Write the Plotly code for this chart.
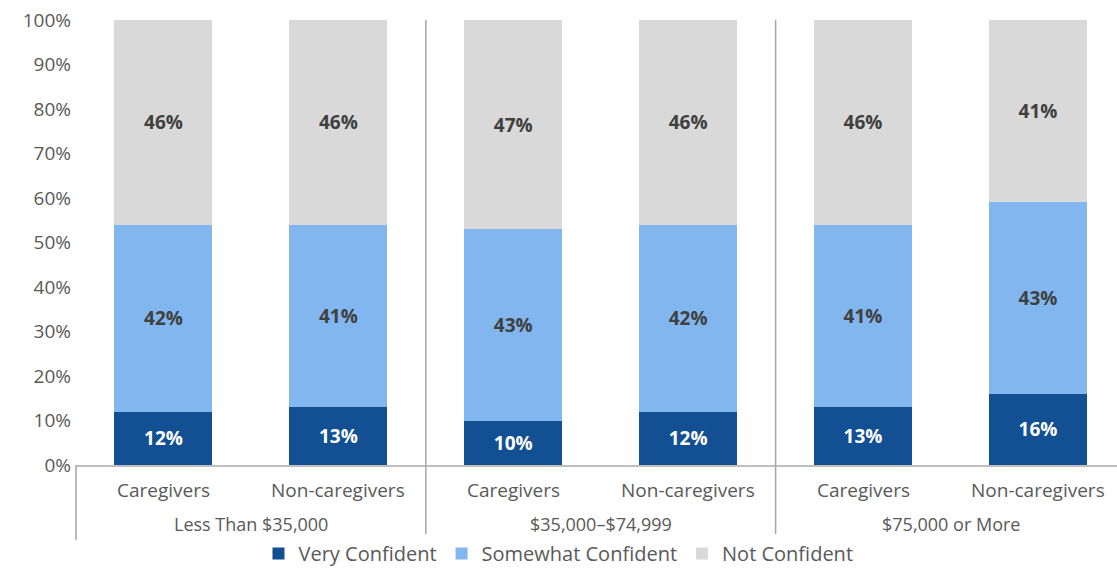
import plotly.graph_objects as go

categories = ["Caregivers", "Non-caregivers", "Caregivers", "Non-caregivers", "Caregivers", "Non-caregivers"]
groups = ["Less Than $35,000", "$35,000–$74,999", "$75,000 or More"]
very_confident = [12, 13, 10, 12, 13, 16]
somewhat_confident = [42, 41, 43, 42, 41, 43]
not_confident = [46, 46, 47, 46, 46, 41]
y_ticks = [0, 10, 20, 30, 40, 50, 60, 70, 80, 90, 100]

FONT = "Open Sans"
xs = list(range(len(categories)))
X_RANGE = [-0.5, 5.452]
span = X_RANGE[1] - X_RANGE[0]

series = [
    ("Very Confident", very_confident, "#124F93", "white"),
    ("Somewhat Confident", somewhat_confident, "#82B6EE", "#404040"),
    ("Not Confident", not_confident, "#D9D9D9", "#404040"),
]

fig = go.Figure()
for name, vals, color, tcolor in series:
    fig.add_trace(go.Bar(
        x=xs, y=vals, name=name, marker=dict(color=color, line=dict(width=0)),
        width=0.56,
        text=[f"{v}%" for v in vals], textposition="inside", insidetextanchor="middle",
        textangle=0, constraintext="none",
        textfont=dict(family=FONT, size=19, color=tcolor, weight="bold"),
        hoverinfo="skip",
    ))

annotations = []
for i, c in enumerate(categories):
    annotations.append(dict(x=xs[i], y=0, xref="x", yref="paper", text=c, showarrow=False,
                            xanchor="center", yanchor="middle", yshift=-25,
                            font=dict(family=FONT, size=19, color="#595959")))
for g, name in enumerate(groups):
    annotations.append(dict(x=2 * g + 0.5, y=0, xref="x", yref="paper", text=name, showarrow=False,
                            xanchor="center", yanchor="middle", yshift=-59,
                            font=dict(family=FONT, size=18, color="#595959")))

shapes = []
line_style = dict(color="#A6A6A6", width=1.5)
shapes.append(dict(type="line", xref="paper", yref="paper", x0=0, x1=0, y0=0, y1=-75 / 445, line=line_style))
for b in (1.5, 3.5):
    sx = (b - X_RANGE[0]) / span
    shapes.append(dict(type="line", xref="paper", yref="paper", x0=sx, x1=sx, y0=1, y1=-75 / 445, line=line_style))

fig.update_layout(
    barmode="stack",
    width=1117, height=573,
    margin=dict(l=76, r=0, t=20, b=108, autoexpand=False),
    plot_bgcolor="white", paper_bgcolor="white",
    xaxis=dict(range=X_RANGE, showticklabels=False, showgrid=False, zeroline=False,
               showline=True, linecolor="#BFBFBF", linewidth=1.5, fixedrange=True, automargin=False),
    yaxis=dict(range=[0, 100], tickvals=y_ticks, ticktext=[f"{t}%" for t in y_ticks],
               showgrid=False, zeroline=False, showline=False, ticks="", automargin=False,
               tickfont=dict(family=FONT, size=19, color="#595959"), ticklabelstandoff=4),
    legend=dict(orientation="h", x=0.5, xanchor="center", xref="container",
                y=0, yanchor="bottom", yref="container",
                font=dict(family=FONT, size=20, color="#595959"), traceorder="normal",
                itemwidth=30),
    annotations=annotations,
    shapes=shapes,
    showlegend=True,
)

fig.write_html("out.html", config={"displayModeBar": False},
               post_script="document.body.style.margin='0';document.body.style.padding='0';")
